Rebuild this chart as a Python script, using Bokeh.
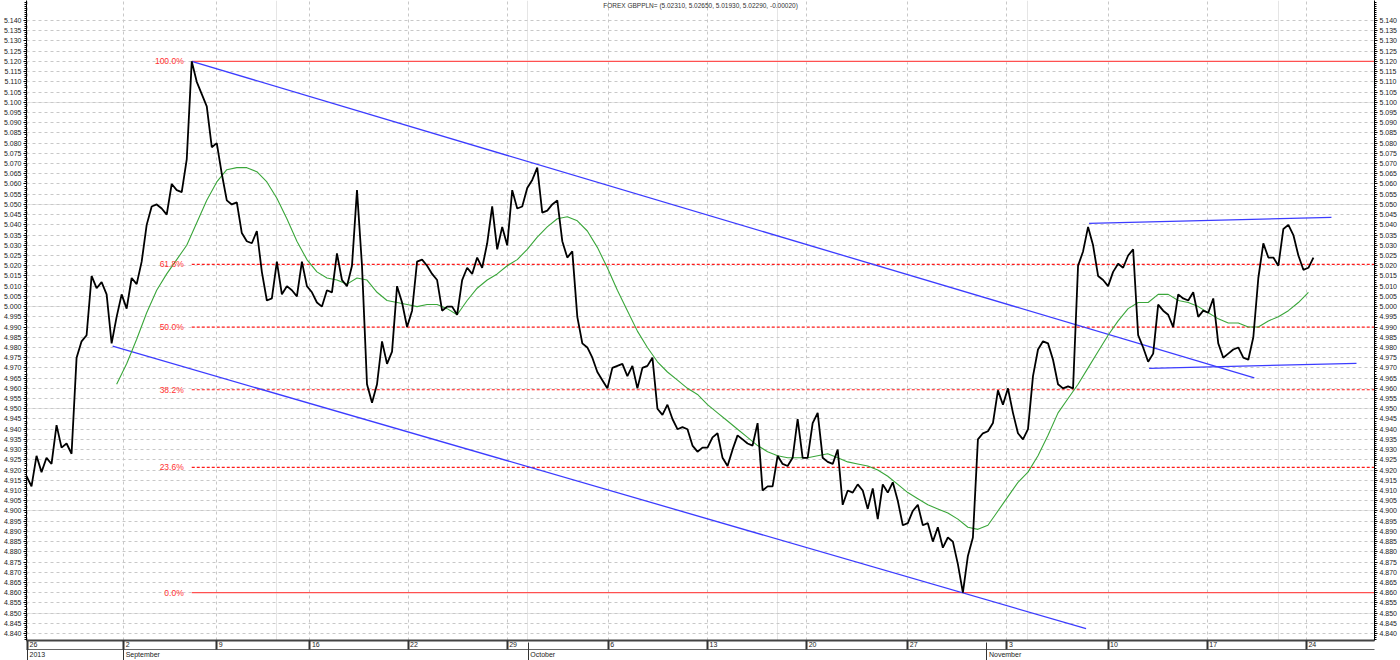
import numpy as np
from bokeh.plotting import figure
from bokeh.models import (Range1d, LinearAxis, FixedTicker, Label, Grid,
                          PrintfTickFormatter, CustomJSTickFormatter)
from bokeh.embed import file_html
from bokeh.resources import INLINE

title_text = "FOREX GBPPLN= (5.02310, 5.02650, 5.01930, 5.02290, -0.00020)"

# GBP/PLN price, sampled at regular intervals (index units)
price = [
    4.917, 4.912, 4.927, 4.919, 4.926, 4.923, 4.942, 4.931, 4.933, 4.928,
    4.975, 4.983, 4.986, 5.015, 5.009, 5.012, 5.006, 4.982, 4.995, 5.006,
    4.999, 5.014, 5.011, 5.022, 5.040, 5.049, 5.050, 5.048, 5.045, 5.060,
    5.057, 5.056, 5.072, 5.120, 5.110, 5.104, 5.098, 5.078, 5.080, 5.065,
    5.052, 5.050, 5.051, 5.036, 5.032, 5.031, 5.037, 5.017, 5.003, 5.004,
    5.022, 5.006, 5.010, 5.008, 5.005, 5.022, 5.010, 5.007, 5.002, 5.000,
    5.008, 5.007, 5.026, 5.013, 5.010, 5.020, 5.057, 5.020, 4.962, 4.953,
    4.962, 4.983, 4.972, 4.978, 5.010, 5.002, 4.990, 4.998, 5.022, 5.023,
    5.020, 5.016, 5.013, 4.998, 5.000, 5.000, 4.996, 5.013, 5.019, 5.016,
    5.024, 5.019, 5.031, 5.049, 5.028, 5.039, 5.030, 5.057, 5.048, 5.049,
    5.058, 5.062, 5.068, 5.046, 5.047, 5.050, 5.052, 5.032, 5.024, 5.027,
    4.995, 4.982, 4.980, 4.975, 4.968, 4.964, 4.960, 4.970, 4.971, 4.972,
    4.966, 4.971, 4.960, 4.970, 4.971, 4.975, 4.950, 4.947, 4.952, 4.945,
    4.940, 4.941, 4.940, 4.932, 4.929, 4.931, 4.931, 4.936, 4.938, 4.926,
    4.922, 4.930, 4.937, 4.935, 4.933, 4.932, 4.943, 4.910, 4.912, 4.912,
    4.927, 4.923, 4.922, 4.926, 4.945, 4.926, 4.926, 4.943, 4.948, 4.926,
    4.924, 4.923, 4.930, 4.903, 4.910, 4.909, 4.913, 4.910, 4.901, 4.911,
    4.896, 4.913, 4.909, 4.914, 4.905, 4.893, 4.894, 4.900, 4.903, 4.893,
    4.894, 4.885, 4.892, 4.882, 4.887, 4.885, 4.874, 4.860, 4.878, 4.887,
    4.935, 4.938, 4.939, 4.943, 4.959, 4.952, 4.960, 4.948, 4.938, 4.935,
    4.940, 4.966, 4.979, 4.983, 4.982, 4.974, 4.962, 4.960, 4.961, 4.960,
    5.020, 5.027, 5.039, 5.030, 5.015, 5.013, 5.010, 5.017, 5.021, 5.019,
    5.025, 5.028, 4.986, 4.980, 4.973, 4.977, 5.001, 4.998, 4.996, 4.990,
    5.006, 5.004, 5.003, 5.007, 4.995, 4.998, 4.997, 5.004, 4.982, 4.975,
    4.977, 4.979, 4.980, 4.975, 4.974, 4.985, 5.014, 5.031, 5.024, 5.024,
    5.020, 5.038, 5.040, 5.035, 5.025, 5.018, 5.019, 5.024,
]

# moving average (green), every second sample starting at index 18
ma_start = 18
ma = [
    4.962, 4.972, 4.984, 4.997, 5.008, 5.016, 5.023, 5.030, 5.041, 5.052,
    5.061, 5.067, 5.068, 5.068, 5.066, 5.061, 5.053, 5.043, 5.032, 5.023,
    5.017, 5.014, 5.013, 5.011, 5.014, 5.013, 5.007, 5.003, 5.002, 5.001,
    5.000, 5.001, 5.001, 4.999, 4.996, 5.003, 5.009, 5.013, 5.016, 5.020,
    5.023, 5.028, 5.034, 5.039, 5.043, 5.044, 5.042, 5.037, 5.029, 5.019,
    5.008, 4.998, 4.988, 4.980, 4.973, 4.968, 4.964, 4.960, 4.957, 4.952,
    4.948, 4.944, 4.940, 4.936, 4.932, 4.929, 4.927, 4.926, 4.926, 4.926,
    4.927, 4.928, 4.926, 4.924, 4.923, 4.922, 4.920, 4.917, 4.913, 4.909,
    4.906, 4.903, 4.901, 4.899, 4.896, 4.892, 4.891, 4.893, 4.900, 4.907,
    4.914, 4.919, 4.927, 4.937, 4.948, 4.955, 4.962, 4.970, 4.978, 4.986,
    4.993, 4.999, 5.002, 5.002, 5.006, 5.006, 5.003, 5.002, 5.000, 4.997,
    4.994, 4.992, 4.992, 4.990, 4.990, 4.993, 4.995, 4.998, 5.002, 5.007,
]

# x axis: week ticks and month/year row
week_ticks = [0.2, 19.4, 38.0, 56.6, 76.2, 96.0, 116.2, 136.0, 155.8, 176.0,
              195.8, 216.0, 235.8, 255.6]
week_labels = ["26", "2", "9", "16", "22", "29", "6", "13", "20", "27",
               "3", "10", "17", "24"]
month_ticks = [0.2, 19.4, 100.2, 191.8]
month_labels = ["2013", "September", "October", "November"]

# Fibonacci retracement
fib_ratios = [1.0, 0.618, 0.5, 0.382, 0.236, 0.0]
fib_labels = ["100.0%", "61.8%", "50.0%", "38.2%", "23.6%", "0.0%"]

# trend lines (index units, price)
trend_x0 = [33.0, 17.2, 212.2, 224.2]
trend_y0 = [5.1200, 4.9806, 5.0407, 4.9698]
trend_x1 = [245.2, 211.6, 260.6, 265.6]
trend_y1 = [4.9651, 4.8424, 5.0437, 4.9722]

X_END = 269.2
Y_LO, Y_HI = 4.8366, 5.1498
FONT = "Liberation Sans"
ROW_FONT_PX = 7.0
PX_PER_UNIT = 1346.0 / X_END

# approximate Liberation Sans advance widths (em) to left-align row labels
_cw = {"S": .667, "e": .556, "p": .556, "t": .278, "m": .833, "b": .556,
       "r": .333, "O": .778, "c": .5, "o": .556, "N": .722, "v": .5}


def text_w(s):
    return sum(_cw.get(ch, .556) for ch in s) * ROW_FONT_PX


def left_aligned(ticks, labels):
    return [t + (2.0 + text_w(l) / 2.0) / PX_PER_UNIT for t, l in zip(ticks, labels)]


p = figure(width=1400, height=660, x_range=Range1d(0, X_END),
           y_range=Range1d(Y_LO, Y_HI), output_backend="svg",
           toolbar_location=None, x_axis_location=None, y_axis_location=None,
           min_border_left=0, min_border_right=0, min_border_top=0,
           min_border_bottom=0)
p.outline_line_color = None
p.background_fill_color = "white"

# y ticks
yticks = [round(4.840 + 0.005 * k, 3) for k in range(61)]
yminor = [round(4.837 + 0.001 * k, 3) for k in range(313)]
yticker = FixedTicker(ticks=yticks, minor_ticks=yminor)
week_ticker = FixedTicker(ticks=week_ticks, minor_ticks=[])

p.add_layout(Grid(dimension=1, ticker=yticker, grid_line_color="#c8c8c8",
                  grid_line_dash="3 3", grid_line_width=1))
p.add_layout(Grid(dimension=0, ticker=week_ticker, grid_line_color="#c8c8c8",
                  grid_line_dash="3 3", grid_line_width=1))

for side in ("left", "right"):
    ax = LinearAxis(ticker=yticker, formatter=PrintfTickFormatter(format="%.3f"))
    ax.axis_line_color = "black"
    ax.axis_line_width = 1
    ax.major_tick_in = 0
    ax.major_tick_out = 3
    ax.minor_tick_in = 0
    ax.minor_tick_out = 2
    ax.major_tick_line_color = "black"
    ax.minor_tick_line_color = "black"
    ax.major_label_standoff = 2
    ax.major_label_text_font = FONT
    ax.major_label_text_font_size = "7px"
    ax.major_label_text_color = "#222222"
    p.add_layout(ax, side)


def row_formatter(tick_pos, tick_text):
    return CustomJSTickFormatter(args=dict(tpos=tick_pos, ttxt=tick_text), code="""
        let best = 0, d = 1e9;
        for (let i = 0; i < tpos.length; i++) {
            const dd = Math.abs(tpos[i] - tick);
            if (dd < d) { d = dd; best = i; }
        }
        return ttxt[best];
    """)


week_lab_pos = left_aligned(week_ticks, week_labels)
month_lab_pos = left_aligned(month_ticks, month_labels)

# row 1: day numbers
ax1 = LinearAxis(ticker=FixedTicker(ticks=week_lab_pos, minor_ticks=[]),
                 formatter=row_formatter(week_lab_pos, week_labels))
ax1.axis_line_color = "#444444"
ax1.axis_line_width = 2
ax1.major_tick_in = 0
ax1.major_tick_out = 0
ax1.major_tick_line_color = None
ax1.minor_tick_out = 0
ax1.minor_tick_in = 0
ax1.major_label_standoff = 1
ax1.major_label_text_font = FONT
ax1.major_label_text_font_size = "7px"
ax1.major_label_text_color = "#222222"
p.add_layout(ax1, "below")

# row 2: months; its minor ticks draw the week separators up into row 1
ax2 = LinearAxis(ticker=FixedTicker(ticks=month_lab_pos, minor_ticks=week_ticks),
                 formatter=row_formatter(month_lab_pos, month_labels))
ax2.axis_line_color = "#666666"
ax2.axis_line_width = 1
ax2.major_tick_in = 0
ax2.major_tick_out = 0
ax2.major_tick_line_color = None
ax2.minor_tick_in = 9
ax2.minor_tick_out = 0
ax2.minor_tick_line_color = "#333333"
ax2.minor_tick_line_width = 2
ax2.major_label_standoff = 1
ax2.major_label_text_font = FONT
ax2.major_label_text_font_size = "7px"
ax2.major_label_text_color = "#222222"
p.add_layout(ax2, "below")

# month separators spanning both rows
ax3 = LinearAxis(ticker=FixedTicker(ticks=month_ticks, minor_ticks=[]),
                 formatter=CustomJSTickFormatter(code="return '';"))
ax3.axis_line_color = "#666666"
ax3.major_tick_in = 18
ax3.major_tick_out = 0
ax3.major_tick_line_color = "#333333"
ax3.major_tick_line_width = 1
ax3.minor_tick_in = 0
ax3.minor_tick_out = 0
ax3.major_label_standoff = 0
ax3.major_label_text_font_size = "1px"
p.add_layout(ax3, "below")

# Fibonacci levels from the swing high/low
hi = max(price)
lo = min(price)
peak_idx = price.index(hi)
for r, lab in zip(fib_ratios, fib_labels):
    lvl = lo + r * (hi - lo)
    solid = r in (0.0, 1.0)
    # white underlay so the grid does not show through the dash gaps
    p.segment(x0=[peak_idx], x1=[X_END], y0=[lvl], y1=[lvl],
              line_color="white", line_width=1.6)
    p.segment(x0=[peak_idx], x1=[X_END], y0=[lvl], y1=[lvl],
              line_color="#ff5050" if solid else "#ff1a1a",
              line_width=1.2,
              line_dash="solid" if solid else "3 2")
    p.add_layout(Label(x=peak_idx, y=lvl, text=lab, x_offset=-8,
                       text_align="right", text_baseline="middle",
                       text_font=FONT, text_font_size="8.5px",
                       text_color="#ff3030"))

# trend lines
p.segment(x0=trend_x0, y0=trend_y0, x1=trend_x1, y1=trend_y1,
          line_color="#3c3cff", line_width=1.3)

# moving average and price
ma_x = ma_start + 2 * np.arange(len(ma))
p.line(x=ma_x, y=ma, line_color="#3aa63a", line_width=1.1)
p.line(x=np.arange(len(price)), y=price, line_color="black", line_width=1.8)

# title inside the frame
p.add_layout(Label(x=X_END / 2, y=Y_HI, y_offset=-1, text=title_text,
                   text_align="center", text_baseline="top",
                   text_font=FONT, text_font_size="6.5px",
                   text_color="#333333"))

open("out.html", "w").write(file_html(p, INLINE))
